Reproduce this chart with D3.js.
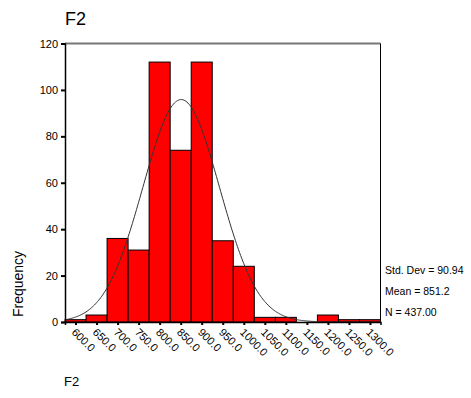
<!DOCTYPE html>
<html>
<head>
<meta charset="utf-8">
<script src="https://cdn.jsdelivr.net/npm/d3@7"></script>
<style>
  body { margin: 0; background: #fff; }
  svg { display: block; font-family: Arial, "Liberation Sans", sans-serif; }
</style>
</head>
<body>
<figure style="margin:0"></figure>
<script>
// bin midpoints and counts
const bins = [600, 650, 700, 750, 800, 850, 900, 950, 1000, 1050, 1100, 1150, 1200, 1250, 1300];
const counts = [1, 3, 36, 31, 112, 74, 112, 35, 24, 2, 2, 0, 3, 1, 1];
const yTicks = [0, 20, 40, 60, 80, 100, 120];
const stats = {sd: 90.94, mean: 851.2, n: 437};
const statLabels = ['Std. Dev = 90.94', 'Mean = 851.2', 'N = 437.00'];

(() => {
  const totalWidth = 471;
  const totalHeight = 398;
  const binWidth = 50;

  const svg = d3.select('figure').append('svg')
    .attr('width', totalWidth)
    .attr('height', totalHeight);

  const x = d3.scaleLinear()
    .domain([575, 1325])
    .range([65, 380.5]);

  const y = d3.scaleLinear()
    .domain([0, 120])
    .range([322, 43.5]);

  // frame
  svg.append('line')
    .attr('x1', x(575)).attr('x2', x(1325))
    .attr('y1', y(120)).attr('y2', y(120))
    .attr('stroke', '#777').attr('stroke-width', 2);
  svg.append('line')
    .attr('x1', x(1325)).attr('x2', x(1325))
    .attr('y1', y(120)).attr('y2', y(0))
    .attr('stroke', '#000').attr('stroke-width', 1);

  // bars
  svg.selectAll('rect.bar')
    .data(bins)
    .enter().append('rect')
      .attr('class', 'bar')
      .attr('x', (d) => x(d - binWidth / 2))
      .attr('width', (d) => x(d + binWidth / 2) - x(d - binWidth / 2))
      .attr('y', (d, i) => y(counts[i]))
      .attr('height', (d, i) => y(0) - y(counts[i]))
      .attr('fill', '#ff0000')
      .attr('stroke', '#000')
      .attr('stroke-width', 1);

  // normal curve from the reported statistics
  const scale = stats.n * binWidth / (stats.sd * Math.sqrt(2 * Math.PI));
  const curveXs = d3.range(575, 1325.1, 2.5);
  const line = d3.line()
    .x((d) => x(d))
    .y((d) => y(scale * Math.exp(-0.5 * Math.pow((d - stats.mean) / stats.sd, 2))))
    .curve(d3.curveBasis);
  svg.append('path')
    .datum(curveXs)
    .attr('fill', 'none')
    .attr('stroke', '#333')
    .attr('stroke-width', 1)
    .attr('d', line);

  // y axis
  const yAxis = svg.append('g')
    .attr('transform', 'translate(' + x(575) + ',0)')
    .call(d3.axisLeft(y).tickValues(yTicks).tickSize(4).tickPadding(3));
  yAxis.select('.domain').attr('stroke', '#000').attr('stroke-width', 1.5);
  yAxis.selectAll('.tick line').attr('stroke-width', 2);
  yAxis.selectAll('text').attr('font-size', 11).attr('fill', '#000')
    .attr('font-family', 'Arial, "Liberation Sans", sans-serif');

  // x axis
  const xAxis = svg.append('g')
    .attr('transform', 'translate(0,' + y(0) + ')')
    .call(d3.axisBottom(x).tickValues(bins).tickSize(3).tickFormat(d3.format('.1f')));
  xAxis.select('.domain').attr('stroke', '#000').attr('stroke-width', 1.5);
  xAxis.selectAll('.tick line').attr('stroke-width', 2);
  xAxis.selectAll('text')
    .attr('font-size', 11).attr('fill', '#000')
    .attr('font-family', 'Arial, "Liberation Sans", sans-serif')
    .attr('text-anchor', 'start')
    .attr('dy', '0.35em')
    .attr('transform', 'translate(2,4) rotate(45)');

  // titles
  svg.append('text')
    .attr('x', 65).attr('y', 25)
    .attr('font-size', 18)
    .text('F2');

  svg.append('text')
    .attr('x', 64).attr('y', 386)
    .attr('font-size', 13)
    .text('F2');

  svg.append('text')
    .attr('transform', 'translate(23,284) rotate(-90)')
    .attr('text-anchor', 'middle')
    .attr('font-size', 14)
    .text('Frequency');

  svg.selectAll('text.stat')
    .data(statLabels)
    .enter().append('text')
      .attr('class', 'stat')
      .attr('x', 385)
      .attr('y', (d, i) => 274 + i * 21)
      .attr('font-size', 10.5)
      .text((d) => d);
})();
</script>
</body>
</html>
